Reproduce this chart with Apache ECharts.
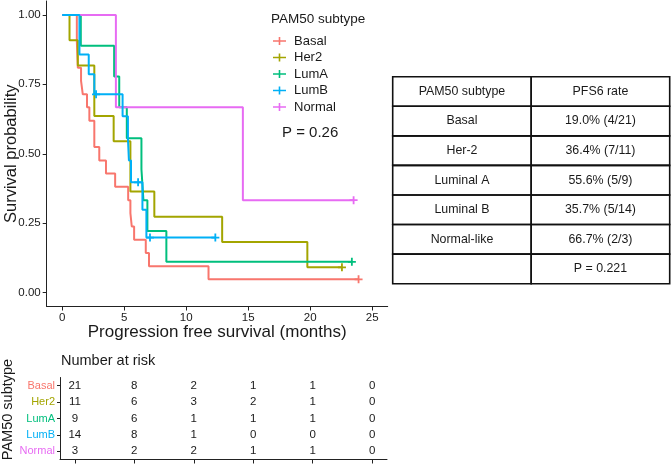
<!DOCTYPE html>
<html>
<head>
<meta charset="utf-8">
<script src="https://cdn.jsdelivr.net/npm/echarts@6/dist/echarts.min.js"></script>
<style>html,body{margin:0;padding:0;background:#fff}#c{width:672px;height:466px}</style>
</head>
<body>
<div id="c"></div>
<script>
// ---- data ----
const groups = ['Basal', 'Her2', 'LumA', 'LumB', 'Normal'];
const colors = ['#F8766D', '#A3A500', '#00BF7D', '#00B0F6', '#E76BF3'];

const basalT = [0, 1.18, 1.26, 1.52, 1.66, 2.0, 2.19, 2.59, 2.99, 3.53, 4.27, 5.32, 5.5, 5.61, 5.8, 6.74, 7.0, 11.8, 23.9];
const basalS = [1, 0.905, 0.810, 0.762, 0.714, 0.667, 0.619, 0.524, 0.476, 0.429, 0.381, 0.333, 0.286, 0.238, 0.190, 0.143, 0.095, 0.048, 0.048];
const basalCensor = [[23.9, 0.048]];

const her2T = [0, 0.59, 1.26, 2.59, 4.15, 5.5, 7.43, 12.9, 19.77, 22.56];
const her2S = [1, 0.909, 0.818, 0.636, 0.545, 0.364, 0.273, 0.182, 0.091, 0.091];
const her2Censor = [[22.56, 0.091]];

const lumAT = [0, 1.5, 4.19, 4.6, 5.21, 6.39, 6.55, 6.87, 8.4, 23.36];
const lumAS = [1, 0.889, 0.778, 0.667, 0.556, 0.444, 0.333, 0.222, 0.111, 0.111];
const lumACensor = [[23.36, 0.111]];

const lumBT = [0, 1.39, 2.14, 2.59, 4.87, 5.3, 5.38, 5.55, 6.47, 6.79, 12.35];
const lumBS = [1, 0.857, 0.786, 0.714, 0.635, 0.556, 0.476, 0.397, 0.298, 0.198, 0.198];
const lumBCensor = [[2.73, 0.714], [6.12, 0.397], [7.08, 0.198], [12.35, 0.198]];

const normalT = [0, 4.33, 14.57, 23.5];
const normalS = [1, 0.667, 0.333, 0.333];
const normalCensor = [[23.5, 0.333]];

const xTicks = [0, 5, 10, 15, 20, 25];
const yTicks = [0, 0.25, 0.5, 0.75, 1];

const riskTimes = [0, 5, 10, 15, 20, 25];
const riskBasal = [21, 8, 2, 1, 1, 0];
const riskHer2 = [11, 6, 3, 2, 1, 0];
const riskLumA = [9, 6, 1, 1, 1, 0];
const riskLumB = [14, 8, 1, 0, 0, 0];
const riskNormal = [3, 2, 2, 1, 1, 0];

const tableCol1 = ['PAM50 subtype', 'Basal', 'Her-2', 'Luminal A', 'Luminal B', 'Normal-like', ''];
const tableCol2 = ['PFS6 rate', '19.0% (4/21)', '36.4% (7/11)', '55.6% (5/9)', '35.7% (5/14)', '66.7% (2/3)', 'P = 0.221'];

// ---- build ----
const FONT = 'Liberation Sans, Arial, Helvetica, sans-serif';
const curveT = [basalT, her2T, lumAT, lumBT, normalT];
const curveS = [basalS, her2S, lumAS, lumBS, normalS];
const censors = [basalCensor, her2Censor, lumACensor, lumBCensor, normalCensor];
const risks = [riskBasal, riskHer2, riskLumA, riskLumB, riskNormal];

const plusLegend = 'path://M0,3.2H13V4.8H0Z M5.7,0H7.3V8H5.7Z';
const plusCensor = 'path://M0,3.1H8V4.9H0Z M3.1,0H4.9V8H3.1Z';

const series = [];
groups.forEach((g, i) => {
  series.push({
    name: g, type: 'line', step: 'end', xAxisIndex: 0, yAxisIndex: 0,
    data: curveT[i].map((t, k) => [t, curveS[i][k]]),
    showSymbol: false, symbol: 'none',
    lineStyle: { color: colors[i], width: 2 }, itemStyle: { color: colors[i] },
    z: 2 + (i === 3 ? 1 : 0), silent: true
  });
  series.push({
    name: g, type: 'scatter', xAxisIndex: 0, yAxisIndex: 0,
    data: censors[i], symbol: plusCensor, symbolSize: 8,
    itemStyle: { color: colors[i], opacity: 1 }, z: 4, silent: true
  });
});

// risk table numbers
const riskData = [];
groups.forEach((g, i) => {
  riskTimes.forEach((t, k) => riskData.push([t, i, risks[i][k]]));
});
series.push({
  type: 'custom', xAxisIndex: 1, yAxisIndex: 1, clip: false, silent: true,
  data: riskData,
  renderItem: function (params, api) {
    const p = api.coord([api.value(0), api.value(1)]);
    return {
      type: 'text',
      style: { text: String(api.value(2)), x: p[0], y: p[1], align: 'center', verticalAlign: 'middle',
               fontSize: 11.5, fontFamily: FONT, fill: '#1a1a1a' }
    };
  }
});

// PFS6 table
const tableData = [];
for (let r = 0; r < tableCol1.length; r++) {
  tableData.push([0, r, tableCol1[r]]);
  tableData.push([1, r, tableCol2[r]]);
}
series.push({
  type: 'custom', xAxisIndex: 2, yAxisIndex: 2, clip: false, silent: true,
  data: tableData,
  renderItem: function (params, api) {
    const c = api.value(0), r = api.value(1);
    const a = api.coord([c, r]), b = api.coord([c + 1, r + 1]);
    const txt = tableData[params.dataIndex][2];
    return {
      type: 'group',
      children: [
        { type: 'rect', shape: { x: Math.min(a[0], b[0]), y: Math.min(a[1], b[1]), width: Math.abs(b[0] - a[0]), height: Math.abs(b[1] - a[1]) },
          style: { fill: 'none', stroke: '#111', lineWidth: 1.6 } },
        { type: 'text', style: { text: txt, x: (a[0] + b[0]) / 2, y: (a[1] + b[1]) / 2, align: 'center', verticalAlign: 'middle',
          fontSize: 12.4, fontFamily: FONT, fill: '#1a1a1a' } }
      ]
    };
  }
});

const axisLineStyle = { show: true, onZero: false, lineStyle: { color: '#222', width: 1 } };

const option = {
  animation: false,
  backgroundColor: '#fff',
  textStyle: { fontFamily: FONT },
  title: [
    { text: 'PAM50 subtype', left: 271, top: 12, textStyle: { fontSize: 13.5, fontWeight: 'normal', color: '#1a1a1a', fontFamily: FONT }, padding: 0 },
    { text: 'P = 0.26', left: 282, top: 125, textStyle: { fontSize: 15, fontWeight: 'normal', color: '#1a1a1a', fontFamily: FONT }, padding: 0 },
    { text: 'Number at risk', left: 61, top: 353, textStyle: { fontSize: 14.5, fontWeight: 'normal', color: '#1a1a1a', fontFamily: FONT }, padding: 0 }
  ],
  legend: {
    data: groups.map(g => ({ name: g, icon: plusLegend })),
    orient: 'vertical', left: 273, top: 34, padding: 0,
    itemWidth: 13, itemHeight: 8, itemGap: 2.5,
    textStyle: { fontSize: 13, color: '#1a1a1a', fontFamily: FONT, lineHeight: 14, padding: [0, 0, 0, 3] },
    selectedMode: false
  },
  grid: [
    { left: 46.7, top: 1, width: 341, height: 305.5, containLabel: false, outerBoundsMode: 'none' },
    { left: 60, top: 377.5, width: 327, height: 82, containLabel: false, outerBoundsMode: 'none' },
    { left: 392.7, top: 76.7, width: 277, height: 207, containLabel: false, outerBoundsMode: 'none' }
  ],
  xAxis: [
    { type: 'value', gridIndex: 0, min: -1.25, max: 26.25,
      axisLine: axisLineStyle, splitLine: { show: false },
      axisTick: { show: true, length: 4, customValues: xTicks, lineStyle: { color: '#222' } },
      axisLabel: { customValues: xTicks, fontSize: 11.5, color: '#1a1a1a', margin: 5, fontFamily: FONT },
      name: 'Progression free survival (months)', nameLocation: 'middle', nameGap: 17, nameMoveOverlap: false,
      nameTextStyle: { fontSize: 17, color: '#1a1a1a', fontFamily: FONT, verticalAlign: 'top' } },
    { type: 'value', gridIndex: 1, min: -1.25, max: 26.25,
      axisLine: axisLineStyle, splitLine: { show: false },
      axisTick: { show: true, length: 4, customValues: riskTimes, lineStyle: { color: '#222' } },
      axisLabel: { show: false } },
    { type: 'value', gridIndex: 2, min: 0, max: 2, show: false }
  ],
  yAxis: [
    { type: 'value', gridIndex: 0, min: -0.05, max: 1.05,
      axisLine: axisLineStyle, splitLine: { show: false },
      axisTick: { show: true, length: 4, customValues: yTicks, lineStyle: { color: '#222' } },
      axisLabel: { customValues: yTicks, fontSize: 11.5, color: '#1a1a1a', margin: 6, fontFamily: FONT,
                   formatter: v => Number(v).toFixed(2) },
      name: 'Survival probability', nameLocation: 'middle', nameGap: 27, nameRotate: 90, nameMoveOverlap: false,
      nameTextStyle: { fontSize: 16.5, color: '#1a1a1a', fontFamily: FONT } },
    { type: 'category', gridIndex: 1, data: groups, inverse: true,
      axisLine: axisLineStyle,
      axisTick: { show: true, length: 3, alignWithLabel: true, lineStyle: { color: '#222' } },
      axisLabel: { fontSize: 11, margin: 5, fontFamily: FONT, color: (v, i) => colors[groups.indexOf(v)] },
      name: 'PAM50 subtype', nameLocation: 'middle', nameGap: 45, nameRotate: 90, nameMoveOverlap: false,
      nameTextStyle: { fontSize: 14.5, color: '#1a1a1a', fontFamily: FONT, padding: [0, 0, 0, 18] } },
    { type: 'value', gridIndex: 2, min: 0, max: 7, inverse: true, show: false }
  ],
  series: series
};

const chart = echarts.init(document.getElementById('c'), null, { renderer: 'canvas' });
chart.setOption(option);
</script>
</body>
</html>
